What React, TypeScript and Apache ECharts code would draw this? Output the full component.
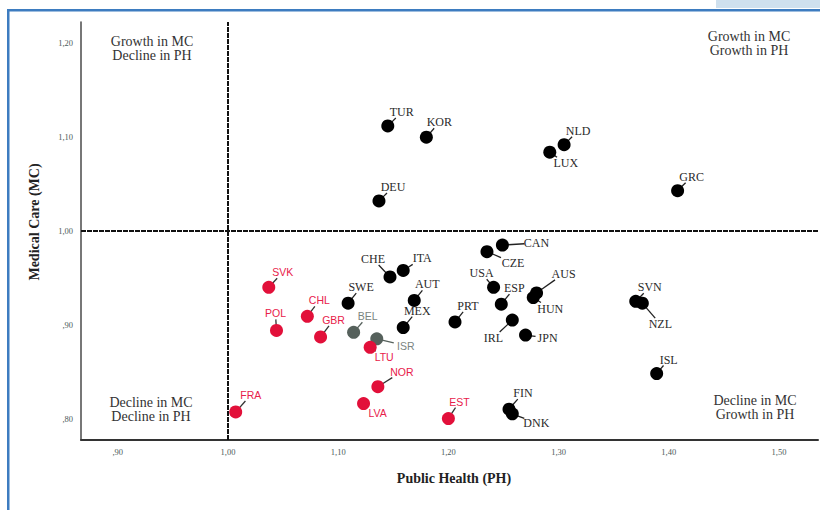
import React, { useEffect, useRef } from "react";
import * as echarts from "echarts";

// ---- data ----
const blackNames = ["TUR", "KOR", "NLD", "LUX", "GRC", "DEU", "CAN", "CZE", "CHE", "ITA", "USA", "ESP", "AUS", "HUN", "SVN", "NZL", "IRL", "JPN", "ISL", "FIN", "DNK", "SWE", "AUT", "MEX", "PRT"];
const blackPH = [1.145, 1.18, 1.305, 1.292, 1.408, 1.137, 1.249, 1.235, 1.147, 1.159, 1.241, 1.248, 1.28, 1.277, 1.37, 1.376, 1.258, 1.27, 1.389, 1.255, 1.258, 1.109, 1.169, 1.159, 1.206];
const blackMC = [1.112, 1.1, 1.092, 1.084, 1.043, 1.032, 0.985, 0.978, 0.951, 0.958, 0.94, 0.922, 0.934, 0.929, 0.925, 0.923, 0.905, 0.889, 0.848, 0.81, 0.805, 0.923, 0.926, 0.897, 0.903];

const grayNames = ["BEL", "ISR"];
const grayPH = [1.114, 1.135];
const grayMC = [0.892, 0.885];

const redNames = ["SVK", "POL", "CHL", "GBR", "LTU", "NOR", "LVA", "EST", "FRA"];
const redPH = [1.037, 1.044, 1.072, 1.084, 1.129, 1.136, 1.123, 1.2, 1.007];
const redMC = [0.94, 0.894, 0.909, 0.887, 0.876, 0.834, 0.816, 0.8, 0.807];

const xTicks = [0.9, 1.0, 1.1, 1.2, 1.3, 1.4, 1.5];
const yTicks = [0.8, 0.9, 1.0, 1.1, 1.2];

// label placement (pixel offsets of label centre from point)
const labelOffsets: Record<string, [number, number]> = {
  TUR: [14, -14], KOR: [13, -15], NLD: [14, -14], LUX: [16, 11], GRC: [14, -14], DEU: [14, -14],
  CAN: [34, -2], CZE: [26, 11], CHE: [-17, -18], ITA: [19, -12], USA: [-12, -14], ESP: [13, -16],
  AUS: [27, -19], HUN: [17, 11], SVN: [14, -14], NZL: [18, 21], IRL: [-19, 18], JPN: [22, 3],
  ISL: [12, -14], FIN: [14, -16], DNK: [24, 9], SWE: [13, -16], AUT: [13, -16], MEX: [14, -17],
  PRT: [13, -16], BEL: [14, -16], ISR: [29, 7], SVK: [14, -15], POL: [-1, -17], CHL: [12, -16],
  GBR: [13, -17], LTU: [14, 10], NOR: [24, -15], LVA: [14, 9], EST: [11, -17], FRA: [15, -17],
};

const SERIF = "'Liberation Serif', 'DejaVu Serif', serif";
const SANS = "'Liberation Sans', Arial, sans-serif";
const R = 6.5;

const fmt = (v: number) => {
  const s = v.toFixed(2).replace(".", ",");
  return s.startsWith("0") ? s.slice(1) : s;
};

const makeRender = (names: string[], fill: string, lineColor: string, textColor: string, font: string) =>
  (params: any, api: any) => {
    const name = names[params.dataIndex];
    const p = api.coord([api.value(0), api.value(1)]);
    const [dx, dy] = labelOffsets[name] || [14, -14];
    const len = Math.hypot(dx, dy);
    const hw = 12, hh = 6;
    const sBox = 1 - Math.min(dx ? hw / Math.abs(dx) : 99, dy ? hh / Math.abs(dy) : 99);
    const sStart = (R - 1) / len;
    const children: any[] = [];
    if (sBox > sStart + 0.03) {
      children.push({
        type: "line",
        shape: { x1: p[0] + dx * sStart, y1: p[1] + dy * sStart, x2: p[0] + dx * sBox, y2: p[1] + dy * sBox },
        style: { stroke: lineColor, lineWidth: 1.3 },
      });
    }
    children.push({ type: "circle", shape: { cx: p[0], cy: p[1], r: R }, style: { fill } });
    children.push({
      type: "text",
      x: p[0] + dx,
      y: p[1] + dy,
      style: { text: name, fill: textColor, font, align: "center", verticalAlign: "middle" },
    });
    return { type: "group", children };
  };

export default function App() {
  const ref = useRef<HTMLDivElement>(null);
  useEffect(() => {
    document.body.style.margin = "0";
    const chart = echarts.init(ref.current!, null, { renderer: "svg" });
    const quad = (text: string, x: number, y: number) => ({
      type: "text",
      x,
      y,
      style: { text, font: `14px ${SERIF}`, fill: "#333", align: "center", verticalAlign: "middle", lineHeight: 14 },
    });
    chart.setOption({
      animation: false,
      backgroundColor: "#fff",
      grid: { left: 81, right: 2, top: 22, bottom: 70 },
      xAxis: {
        type: "value",
        min: 0.8666,
        max: 1.5354,
        splitLine: { show: false },
        axisLine: { show: true, lineStyle: { color: "#333", width: 2 } },
        axisTick: { show: false },
        axisLabel: {
          customValues: xTicks,
          formatter: fmt,
          fontSize: 8.5,
          fontFamily: SERIF,
          color: "#4d5a5a",
          margin: 7,
        },
      },
      yAxis: {
        type: "value",
        min: 0.7771,
        max: 1.2229,
        splitLine: { show: false },
        axisLine: { show: true, lineStyle: { color: "#555", width: 1.6 } },
        axisTick: { show: false },
        axisLabel: {
          customValues: yTicks,
          formatter: fmt,
          fontSize: 8.5,
          fontFamily: SERIF,
          color: "#4d5a5a",
          margin: 8,
        },
      },
      graphic: [
        { type: "rect", shape: { x: 716, y: 0, width: 104, height: 8 }, style: { fill: "#cfe0ee" } },
        { type: "rect", shape: { x: 7, y: 9, width: 813, height: 2.5 }, style: { fill: "#3d7cc0" } },
        { type: "rect", shape: { x: 7, y: 9, width: 2.5, height: 501 }, style: { fill: "#3d7cc0" } },
        quad("Growth in MC\nDecline in PH", 152, 48),
        quad("Growth in MC\nGrowth in PH", 749, 43),
        quad("Decline in MC\nDecline in PH", 151, 409),
        quad("Decline in MC\nGrowth in PH", 755, 407),
        {
          type: "text",
          x: 454,
          y: 478,
          style: { text: "Public Health (PH)", font: `bold 14px ${SERIF}`, fill: "#222", align: "center", verticalAlign: "middle" },
        },
        {
          type: "text",
          x: 34,
          y: 222,
          rotation: Math.PI / 2,
          style: { text: "Medical Care (MC)", font: `bold 14px ${SERIF}`, fill: "#222", align: "center", verticalAlign: "middle" },
        },
      ],
      series: [
        {
          type: "custom",
          name: "black",
          clip: false,
          renderItem: makeRender(blackNames, "#000", "#222", "#2a2a2a", `12px ${SERIF}`),
          data: blackPH.map((x, i) => [x, blackMC[i]]),
          encode: { x: 0, y: 1 },
          markLine: {
            silent: true,
            symbol: "none",
            label: { show: false },
            lineStyle: { color: "#111", type: [5, 1], width: 2 },
            data: [{ xAxis: 1.0 }, { yAxis: 1.0 }],
          },
          z: 3,
        },
        {
          type: "custom",
          name: "gray",
          clip: false,
          renderItem: makeRender(grayNames, "#56615c", "#56615c", "#7a8480", `10.5px ${SANS}`),
          data: grayPH.map((x, i) => [x, grayMC[i]]),
          encode: { x: 0, y: 1 },
          z: 3,
        },
        {
          type: "custom",
          name: "red",
          clip: false,
          renderItem: makeRender(redNames, "#e2103a", "#333", "#e8204a", `10.5px ${SANS}`),
          data: redPH.map((x, i) => [x, redMC[i]]),
          encode: { x: 0, y: 1 },
          z: 3,
        },
      ],
    });
    return () => chart.dispose();
  }, []);
  return <div ref={ref} style={{ width: 820, height: 510 }} />;
}
